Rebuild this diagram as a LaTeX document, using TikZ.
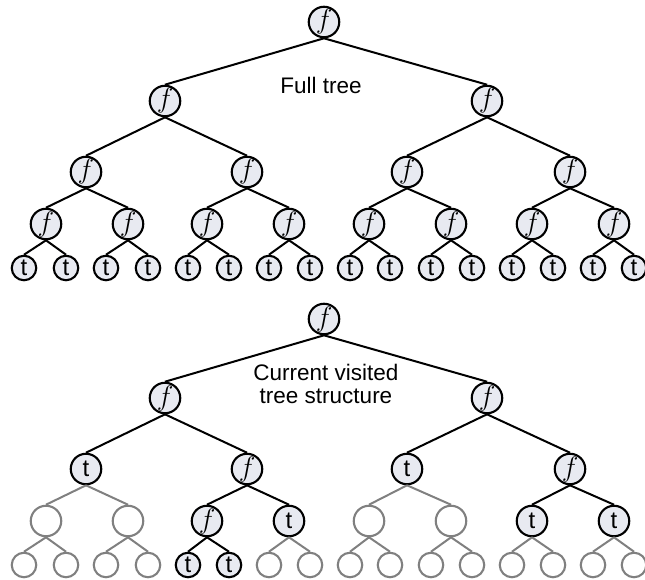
\documentclass[tikz,border=0pt]{standalone}
\usepackage{fontspec}
\setmainfont{Liberation Sans}
\definecolor{nodefill}{RGB}{232,234,241}
\definecolor{faded}{RGB}{128,128,128}
\newcommand{\fsym}{\scalebox{1.35}{$f$}}
\begin{document}
\begin{tikzpicture}[x=1pt,y=-1pt,
  base/.style={circle, inner sep=0pt, line width=2.1pt},
  fnode/.style={base, draw=black, fill=nodefill, minimum size=30.5pt,
    font=\fontsize{20.74}{21}\selectfont},
  tnode/.style={base, draw=black, fill=nodefill, minimum size=24.5pt,
    font=\fontsize{24}{24}\selectfont},
  gnode/.style={base, draw=faded, minimum size=30.5pt},
  gleaf/.style={base, draw=faded, minimum size=24.5pt},
  % node kinds used by the lower tree
  kf/.style={fnode, node contents=\fsym},
  kt/.style={tnode, node contents=t},
  kT/.style={fnode, font=\fontsize{24}{24}\selectfont, node contents=t},
  kg/.style={gnode, node contents={}},
  kl/.style={gleaf, node contents={}},
  edge/.style={line width=2pt, draw=black},
  ef/.style={edge}, et/.style={edge}, eT/.style={edge},
  eg/.style={line width=2pt, draw=faded}, el/.style={eg},
  caption/.style={font=\fontsize{22.5}{23}\selectfont, align=center}]
\useasboundingbox (0,0) rectangle (645,580);

% ---------- full tree ----------
\node[fnode] (T0-0) at (324,22) {\fsym};
\foreach \x [count=\i from 0] in {165,487}
  \node[fnode] (T1-\i) at (\x,101) {\fsym};
\foreach \x [count=\i from 0] in {86,247,407,570}
  \node[fnode] (T2-\i) at (\x,172) {\fsym};
\foreach \x [count=\i from 0] in {46,128,207,289,369,451,532,614}
  \node[fnode] (T3-\i) at (\x,224) {\fsym};
\foreach \x [count=\i from 0] in {24,66,106,148,188,229,269,310,350,390,431,472,512,553,593,634}
  \node[tnode] (T4-\i) at (\x,268) {t};

\foreach \l/\m in {0/1,1/2,2/3,3/4} {
  \pgfmathtruncatemacro\cnt{2^\l-1}
  \foreach \i in {0,...,\cnt} {
    \pgfmathtruncatemacro\a{2*\i}
    \pgfmathtruncatemacro\b{2*\i+1}
    \draw[edge] (T\l-\i.south) -- (T\m-\a.north);
    \draw[edge] (T\l-\i.south) -- (T\m-\b.north);
  }
}

\node[caption] (cap1) at (321,85) {Full tree};

% ---------- visited part of the tree ----------
\node (B0-0) at (324,319) [kf];
\foreach \x/\k [count=\i from 0] in {165/f,487/f}
  \node (B1-\i) at (\x,398) [k\k];
\foreach \x/\k [count=\i from 0] in {86/T,247/f,407/T,570/f}
  \node (B2-\i) at (\x,469) [k\k];
\foreach \x/\k [count=\i from 0] in {46/g,128/g,207/f,289/T,369/g,451/g,532/T,614/T}
  \node (B3-\i) at (\x,521) [k\k];
\foreach \x/\k [count=\i from 0] in {24/l,66/l,106/l,148/l,188/t,229/t,269/l,310/l,350/l,390/l,431/l,472/l,512/l,553/l,593/l,634/l}
  \node (B4-\i) at (\x,565) [k\k];

\foreach \m/\l/\kinds in {1/0/{f,f},2/1/{T,f,T,f},3/2/{g,g,f,T,g,g,T,T},
    4/3/{l,l,l,l,t,t,l,l,l,l,l,l,l,l,l,l}} {
  \foreach \k [count=\i from 0] in \kinds {
    \pgfmathtruncatemacro\p{int(\i/2)}
    \draw[e\k] (B\l-\p.south) -- (B\m-\i.north);
  }
}

\node[caption] (cap2) at (326,384) {Current visited\\tree structure};
\end{tikzpicture}
\end{document}
